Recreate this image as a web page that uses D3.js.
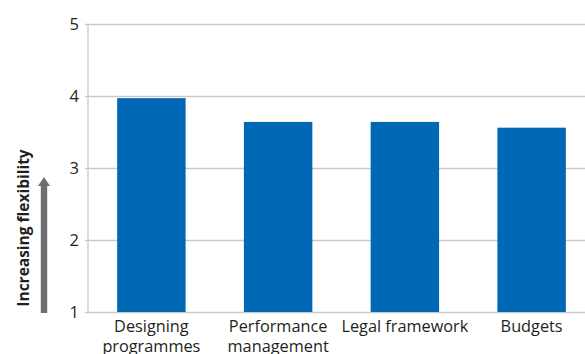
<!DOCTYPE html>
<html>
<head>
<meta charset="utf-8">
<script src="https://cdn.jsdelivr.net/npm/d3@7"></script>
<style>
  html, body { margin: 0; padding: 0; background: #fff; }
  svg { display: block; }
  text { font-family: "Open Sans", "DejaVu Sans", sans-serif; fill: #231f20; }
</style>
</head>
<body>
<svg id="chart" width="585" height="354"></svg>
<script>
// Average flexibility score per area
const categories = [["Designing", "programmes"], ["Performance", "management"], ["Legal framework"], ["Budgets"]];
const values = [3.97, 3.64, 3.64, 3.56];
const yTicks = [1, 2, 3, 4, 5];
const yTitle = "Increasing flexibility";

const svg = d3.select("#chart");
const plotLeft = 88, plotRight = 595, plotTop = 24, plotBottom = 312;

const x = d3.scaleBand()
  .domain(d3.range(categories.length))
  .range([plotLeft, plotRight])
  .paddingInner(0.46)
  .paddingOuter(0.23);

const y = d3.scaleLinear().domain([1, 5]).range([plotBottom, plotTop]);

// Horizontal gridlines with short ticks to the left of the axis
const yAxis = d3.axisLeft(y).tickValues(yTicks).tickSize(-(585 - plotLeft)).tickPadding(9)
  .tickFormat(d3.format("d"));
const gy = svg.append("g").attr("transform", `translate(${plotLeft},0)`).call(yAxis);
gy.select(".domain").remove();
gy.selectAll(".tick line").attr("stroke", "#c9c9cb").attr("stroke-width", 1.3).attr("x1", -3);
gy.selectAll(".tick text").attr("font-size", 16.5).attr("fill", "#231f20")
  .style("font-family", "'Open Sans', sans-serif");

// Vertical axis line
svg.append("line")
  .attr("x1", plotLeft).attr("x2", plotLeft).attr("y1", plotTop).attr("y2", plotBottom)
  .attr("stroke", "#c9c9cb").attr("stroke-width", 1.3);

// Bars
svg.append("g").selectAll("rect").data(values).join("rect")
  .attr("x", (d, i) => x(i))
  .attr("width", x.bandwidth())
  .attr("y", d => y(d))
  .attr("height", d => y(1) - y(d))
  .attr("fill", "#0068b4");

// Category labels (one or two lines)
const lab = svg.append("g").selectAll("text").data(categories).join("text")
  .attr("x", (d, i) => x(i) + x.bandwidth() / 2)
  .attr("y", 332)
  .attr("text-anchor", "middle")
  .attr("font-size", 16.3);
lab.selectAll("tspan").data(d => d).join("tspan")
  .attr("x", function () { return this.parentNode.getAttribute("x"); })
  .attr("dy", (d, i) => i === 0 ? 0 : 20)
  .text(d => d);

// Axis title, rotated
svg.append("text")
  .attr("transform", "translate(29,228) rotate(-90)")
  .attr("text-anchor", "middle")
  .attr("font-size", 15.5)
  .attr("font-weight", "bold")
  .text(yTitle);

// Upward arrow beside the title
const ax = 44, aTop = 177, aHead = 186, aBot = 313;
svg.append("path")
  .attr("d", `M${ax - 3.2},${aBot} L${ax - 3.2},${aHead} L${ax - 6},${aHead} L${ax},${aTop} L${ax + 6},${aHead} L${ax + 3.2},${aHead} L${ax + 3.2},${aBot} Z`)
  .attr("fill", "#6d6e71");
</script>
</body>
</html>
